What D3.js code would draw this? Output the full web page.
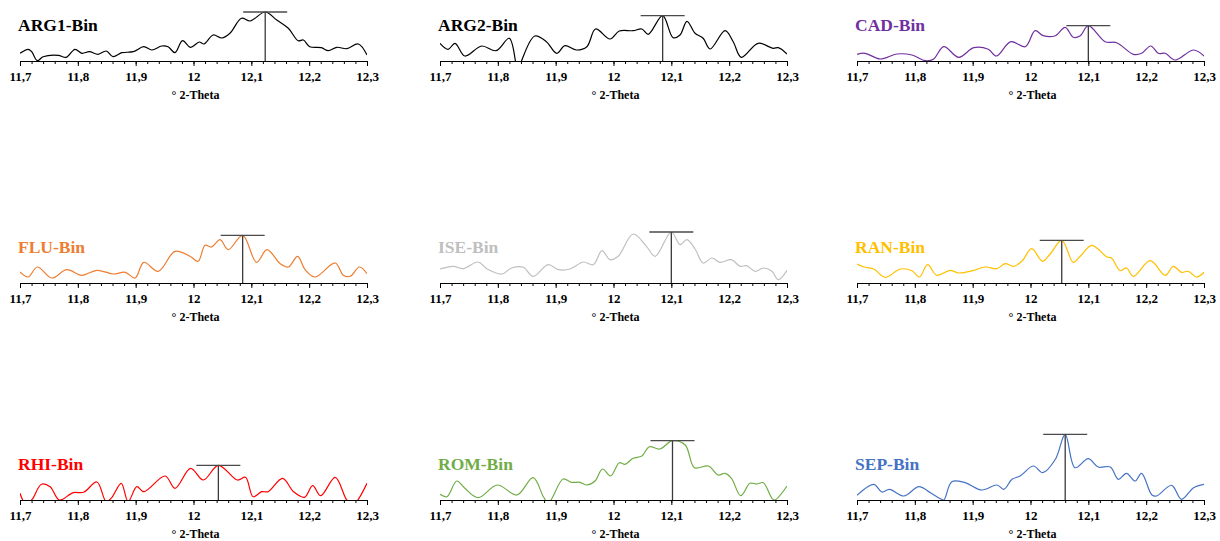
<!DOCTYPE html>
<html><head><meta charset="utf-8">
<script src="https://cdn.jsdelivr.net/npm/d3@7"></script>
<style>body{margin:0;background:#fff}svg{display:block}</style>
</head><body>
<svg id="chart" width="1220" height="541"></svg>
<script>
// ---- data ----
const seriesNames = ["ARG1-Bin","ARG2-Bin","CAD-Bin","FLU-Bin","ISE-Bin","RAN-Bin","RHI-Bin","ROM-Bin","SEP-Bin"];
const seriesColors = ["#000000","#000000","#7030A0","#ED7D31","#BFBFBF","#FFC000","#FF0000","#70AD47","#4472C4"];
const tickValues = [11.7,11.8,11.9,12.0,12.1,12.2,12.3];
const tickLabels = ["11,7","11,8","11,9","12","12,1","12,2","12,3"];
const axisTitle = "° 2-Theta";
const peakPositions = [12.124,12.085,12.1,12.085,12.1,12.054,12.043,12.102,12.06];

const arg1X = [11.7,11.714,11.72,11.73,11.74,11.766,11.78,11.795,11.807,11.82,11.835,11.849,11.861,11.876,11.896,11.914,11.928,11.945,11.956,11.968,11.981,11.995,12.01,12.018,12.034,12.049,12.063,12.083,12.098,12.124,12.144,12.164,12.181,12.19,12.201,12.221,12.233,12.248,12.265,12.285,12.3];
const arg1Y = [7.7,11.7,9.5,0.3,4.3,5.7,3.7,11.7,7.7,9.3,6.7,10,4.3,8.3,9.3,14.3,11,15,14.3,8.3,20.3,13.7,19,17,26,23,27.7,42.7,40,49,41,32.7,20.3,21,14.3,13.3,10.3,13.7,12.3,17,6];

const arg2X = [11.7,11.714,11.726,11.743,11.772,11.797,11.82,11.835,11.841,11.864,11.884,11.902,11.916,11.936,11.954,11.969,11.994,12.01,12.034,12.049,12.06,12.085,12.103,12.115,12.127,12.141,12.155,12.167,12.193,12.207,12.221,12.25,12.276,12.285,12.3];
const arg2Y = [17.7,11.7,17.7,5,15,10.3,22.7,-12,0,25,19.3,7.7,15.3,11,14.3,32,22,30,30.3,32,26.7,45.3,23.3,26,39.7,27.7,22.7,12,30.3,19.3,3.7,17.7,12.7,13.3,7];

const cadX = [11.7,11.714,11.74,11.769,11.795,11.818,11.832,11.85,11.876,11.902,11.927,11.941,11.966,11.991,12.008,12.022,12.043,12.06,12.074,12.086,12.1,12.129,12.149,12.178,12.192,12.208,12.221,12.233,12.25,12.282,12.3];
const cadY = [6.7,7.7,2,7,6,0.3,1.7,14.3,3.7,13.3,11.7,5,19.3,14.3,30.3,25.3,25.3,33.7,23.7,25.3,35.3,19.3,18.3,6.7,7.7,15,7.7,7.7,1,11,5];

const fluX = [11.7,11.714,11.73,11.755,11.781,11.807,11.833,11.861,11.882,11.899,11.914,11.939,11.968,11.994,12.008,12.02,12.031,12.046,12.06,12.085,12.109,12.127,12.15,12.164,12.18,12.193,12.21,12.245,12.259,12.271,12.287,12.3];
const fluY = [11,6,16,5,13.3,7.7,12.7,9,10.7,5,20.7,11.7,31.7,26.7,21.7,37.7,36,43.3,33.3,47.7,20.7,33.3,19.3,16,26.7,13.3,6,20,7.7,6.7,16,9.3];

const iseX = [11.7,11.723,11.74,11.766,11.781,11.807,11.824,11.844,11.861,11.887,11.905,11.925,11.948,11.965,11.98,11.994,12.008,12.034,12.057,12.072,12.1,12.115,12.127,12.141,12.155,12.17,12.184,12.204,12.219,12.23,12.245,12.259,12.274,12.285,12.3];
const iseY = [14,16.7,14.3,21,14.3,9,15,15.7,6.7,18.3,13.3,14,21,18.3,32.3,23.3,26.7,49,36.7,26.7,51,38.3,43.3,34,20,25,20.7,23.3,16.7,17.3,11.7,15,11.7,3.3,12.7];

const ranX = [11.7,11.714,11.729,11.749,11.775,11.795,11.808,11.822,11.838,11.861,11.876,11.902,11.922,11.942,11.956,11.971,11.985,12.002,12.021,12.034,12.054,12.074,12.086,12.106,12.132,12.14,12.155,12.166,12.178,12.207,12.233,12.247,12.261,12.273,12.287,12.3];
const ranY = [19,15.7,14,5.7,14,12.3,6,18.3,7.7,12.7,10,12.7,16,14.3,19.3,16.7,21.7,34.3,21.7,29,42.7,20.7,26.7,37.7,26,25,12.3,15,6.7,22.3,7.7,16.7,10.7,11.7,6,10.7];

const rhiX = [11.7,11.709,11.72,11.737,11.752,11.768,11.792,11.81,11.833,11.849,11.859,11.875,11.887,11.902,11.914,11.951,11.968,11.995,12.017,12.043,12.076,12.09,12.103,12.118,12.129,12.154,12.173,12.192,12.206,12.22,12.245,12.265,12.276,12.285,12.3];
const rhiY = [6.7,-3,0,15.7,13.3,0,7.3,7.7,18,-1.5,2.7,16.7,-1.5,13.3,8.3,24,11.7,31.7,20,34.7,20,22.7,3.3,8.3,8.3,21.7,8.3,2.7,14.3,4.3,22.7,0,-5,0.7,16.7];

const romX = [11.7,11.712,11.729,11.743,11.766,11.799,11.833,11.861,11.879,11.887,11.893,11.913,11.927,11.942,11.954,11.968,11.981,11.995,12.01,12.02,12.034,12.049,12.062,12.08,12.102,12.124,12.14,12.164,12.181,12.193,12.204,12.22,12.236,12.248,12.259,12.274,12.279,12.3];
const romY = [5.7,3.3,19,11.7,2.3,15,5,22.3,3,-3,1,21,17.7,17.7,15,19,31,24,37.3,35.7,41.7,44,53.3,51,59.3,55,32.3,34,25,26.7,21.7,4.3,16.7,16,17.3,1.7,0,14];

const sepX = [11.7,11.729,11.743,11.756,11.781,11.807,11.827,11.844,11.85,11.864,11.887,11.916,11.942,11.954,11.968,11.982,12.005,12.021,12.043,12.06,12.077,12.1,12.117,12.138,12.152,12.166,12.181,12.192,12.21,12.218,12.244,12.261,12.282,12.3];
const sepY = [4.7,15.7,8,10.7,4,13.3,7.3,1.3,0,18.3,17.3,10,15,10.7,20.7,24,34,27.3,40.7,65.7,32.3,41.3,33,33,20.7,26.7,19,26.7,5,4,14.7,0.7,12.3,15.7];

const seriesX = [arg1X,arg2X,cadX,fluX,iseX,ranX,rhiX,romX,sepX];
const seriesY = [arg1Y,arg2Y,cadY,fluY,iseY,ranY,rhiY,romY,sepY];

// ---- layout ----
const colLeft = [20, 440, 857];
const rowAxisY = [61, 283, 500];
const plotW = 347, plotH = 70;
const font = "'Liberation Serif','Times New Roman',serif";

const svg = d3.select("#chart");
const defs = svg.append("defs");

seriesNames.forEach((name, i) => {
  const col = i % 3, row = Math.floor(i / 3);
  const left = colLeft[col], axisY = rowAxisY[row];
  const x = d3.scaleLinear().domain([11.7, 12.3]).range([left, left + plotW]);
  const y = d3.scaleLinear().domain([0, plotH]).range([axisY, axisY - plotH]);
  const g = svg.append("g");

  defs.append("clipPath").attr("id", "clip" + i)
    .append("rect").attr("x", left).attr("y", axisY - plotH - 5)
    .attr("width", plotW).attr("height", plotH + 5);

  const pts = seriesX[i].map((v, k) => [v, seriesY[i][k]]);
  const line = d3.line().x(d => x(d[0])).y(d => y(d[1])).curve(d3.curveCatmullRom.alpha(0.5));
  g.append("path").attr("d", line(pts)).attr("fill", "none")
    .attr("stroke", seriesColors[i]).attr("stroke-width", 1.2)
    .attr("clip-path", `url(#clip${i})`);

  // axis with minor ticks
  const minor = d3.range(0, 31).map(k => 11.7 + k * 0.02);
  g.append("g").attr("transform", `translate(0,${axisY})`)
    .call(d3.axisBottom(x).tickValues(minor).tickSize(3).tickFormat(""))
    .call(a => a.select(".domain").remove())
    .selectAll("line").attr("stroke", "#000");
  const ax = g.append("g").attr("transform", `translate(0,${axisY})`)
    .call(d3.axisBottom(x).tickValues(tickValues).tickSize(5).tickSizeOuter(0).tickPadding(6)
      .tickFormat((d, k) => tickLabels[k]));
  ax.select(".domain").attr("stroke", "#000").attr("stroke-width", 1.2);
  ax.selectAll("line").attr("stroke", "#000");
  ax.selectAll("text").attr("font-family", font).attr("font-weight", "bold")
    .attr("font-size", 13).attr("fill", "#000");

  g.append("text").attr("x", left + plotW / 2 + 2).attr("y", axisY + 38)
    .attr("text-anchor", "middle").attr("font-family", font).attr("font-weight", "bold")
    .attr("font-size", 12).text(axisTitle);

  g.append("text").attr("x", left - 2).attr("y", axisY - 30)
    .attr("font-family", font).attr("font-weight", "bold").attr("font-size", 17.5)
    .attr("fill", seriesColors[i]).text(name);

  // peak marker
  const px = peakPositions[i];
  const pv = d3.max(seriesY[i]);
  g.append("line").attr("x1", x(px)).attr("x2", x(px)).attr("y1", y(0)).attr("y2", y(pv))
    .attr("stroke", "#3a3a3a").attr("stroke-width", 1.3);
  g.append("line").attr("x1", x(px) - 22).attr("x2", x(px) + 22).attr("y1", y(pv)).attr("y2", y(pv))
    .attr("stroke", "#4a4a4a").attr("stroke-width", 1.3);
});
</script>
</body></html>
